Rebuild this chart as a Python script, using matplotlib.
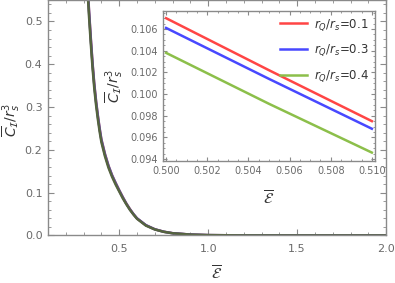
import matplotlib
matplotlib.use("Agg")
import matplotlib.pyplot as plt
from matplotlib.ticker import MultipleLocator, FormatStrFormatter

# ---- data ----
labels = [r"$r_Q/r_s$=0.1", r"$r_Q/r_s$=0.3", r"$r_Q/r_s$=0.4"]
colors = ["#ff4545", "#4848ff", "#8cbf4a"]

eps_main = [0.29, 0.30, 0.31, 0.32, 0.33, 0.34, 0.35, 0.36, 0.37, 0.38, 0.39,
            0.40, 0.42, 0.44, 0.46, 0.48, 0.50, 0.52, 0.54, 0.56, 0.58, 0.60,
            0.65, 0.70, 0.75, 0.80, 0.90, 1.00, 1.20, 1.50, 2.00]
c_main_01 = [0.91, 0.80, 0.70, 0.61, 0.53, 0.465, 0.405, 0.355, 0.315, 0.281,
             0.251, 0.225, 0.191, 0.163, 0.141, 0.123, 0.106, 0.090, 0.075,
             0.062, 0.050, 0.040, 0.024, 0.0145, 0.0088, 0.0053, 0.0021,
             0.0008, 0.00015, 0.00002, 0.0]
c_main_03 = [0.90, 0.795, 0.695, 0.605, 0.526, 0.461, 0.402, 0.352, 0.312, 0.279,
             0.249, 0.223, 0.189, 0.162, 0.140, 0.122, 0.105, 0.089, 0.074,
             0.061, 0.050, 0.040, 0.024, 0.0144, 0.0087, 0.0052, 0.0021,
             0.0008, 0.00015, 0.00002, 0.0]
c_main_04 = [0.88, 0.775, 0.68, 0.592, 0.515, 0.451, 0.393, 0.344, 0.305, 0.272,
             0.243, 0.218, 0.185, 0.158, 0.137, 0.119, 0.103, 0.087, 0.073,
             0.060, 0.049, 0.039, 0.023, 0.0140, 0.0085, 0.0051, 0.0020,
             0.0008, 0.00014, 0.00002, 0.0]

eps_inset = [0.500, 0.505, 0.510]
c_in_01 = [0.1070, 0.1022, 0.0975]
c_in_03 = [0.1061, 0.1014, 0.0968]
c_in_04 = [0.1038, 0.0991, 0.0946]

main_series = [c_main_01, c_main_03, c_main_04]
inset_series = [c_in_01, c_in_03, c_in_04]

frame_col = "#8a8a8a"
tick_col = "#6a6a6a"
label_col = "#333333"

fig = plt.figure(figsize=(3.95, 2.83), dpi=100)
ax = fig.add_axes([0.1215, 0.168, 0.856, 0.832])

main_cols = ["#a8506a", "#5a50a8", "#55643f"]
for ys, c in zip(main_series, main_cols):
    ax.plot(eps_main, ys, color=c, lw=1.8, solid_capstyle="butt")

ax.set_xlim(0.1, 2.0)
ax.set_ylim(0.0, 0.55)
ax.xaxis.set_major_locator(MultipleLocator(0.5))
ax.xaxis.set_minor_locator(MultipleLocator(0.1))
ax.yaxis.set_major_locator(MultipleLocator(0.1))
ax.yaxis.set_minor_locator(MultipleLocator(0.02))
ax.xaxis.set_major_formatter(FormatStrFormatter("%.1f"))
ax.yaxis.set_major_formatter(FormatStrFormatter("%.1f"))


def style(a, fs):
    for s in a.spines.values():
        s.set_color(frame_col)
        s.set_linewidth(1.0)
    a.tick_params(which="both", direction="in", top=True, right=True,
                  color=frame_col, labelcolor=tick_col, labelsize=fs)
    a.tick_params(which="major", length=4, width=0.8)
    a.tick_params(which="minor", length=2, width=0.6)


style(ax, 8)
ax.tick_params(axis="x", pad=6)
ax.tick_params(axis="y", pad=4)
ax.set_xlabel(r"$\overline{\mathcal{E}}$", fontsize=11, color=label_col)
ax.set_ylabel(r"$\overline{C}_{\mathcal{I}}/r_s^3$", fontsize=10, color=label_col)
ax.xaxis.set_label_coords(0.5, -0.125)
ax.yaxis.set_label_coords(-0.077, 0.49)

# ---- inset ----
ins = fig.add_axes([0.4127, 0.431, 0.5365, 0.530])
for ys, c, lab in zip(inset_series, colors, labels):
    ins.plot(eps_inset, ys, color=c, lw=1.8, label=lab)
ins.set_xlim(0.49985, 0.51015)
ins.set_ylim(0.09382, 0.10766)
ins.xaxis.set_major_locator(MultipleLocator(0.002))
ins.xaxis.set_minor_locator(MultipleLocator(0.0005))
ins.yaxis.set_major_locator(MultipleLocator(0.002))
ins.yaxis.set_minor_locator(MultipleLocator(0.0005))
ins.xaxis.set_major_formatter(FormatStrFormatter("%.3f"))
ins.yaxis.set_major_formatter(FormatStrFormatter("%.3f"))
style(ins, 7)
ins.tick_params(which="major", length=3)
ins.tick_params(which="minor", length=1.5)
ins.set_xlabel(r"$\overline{\mathcal{E}}$", fontsize=11, color=label_col)
ins.set_ylabel(r"$\overline{C}_{\mathcal{I}}/r_s^3$", fontsize=10, color=label_col)
ins.xaxis.set_label_coords(0.5, -0.193)
ins.yaxis.set_label_coords(-0.179, 0.5)
leg = ins.legend(loc="upper right", frameon=False, fontsize=8.5,
                 handlelength=2.3, handletextpad=0.6, labelspacing=0.85,
                 borderaxespad=0.1)
for t in leg.get_texts():
    t.set_color(label_col)

fig.savefig("out.png", dpi=100)
